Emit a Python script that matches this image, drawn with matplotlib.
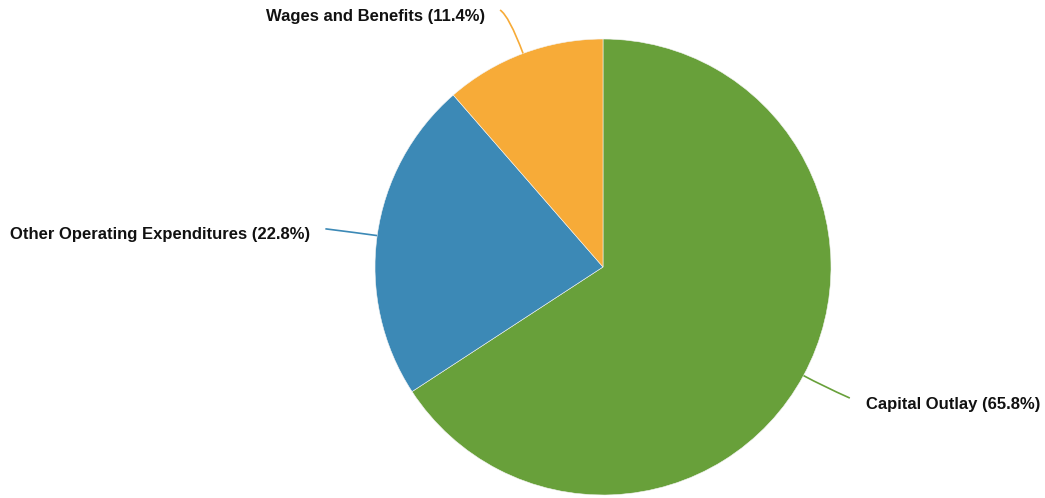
import numpy as np
import matplotlib.pyplot as plt
from matplotlib.path import Path
from matplotlib.patches import PathPatch

plt.rcParams['font.family'] = ['Liberation Sans', 'DejaVu Sans']

categories = ["Capital Outlay", "Other Operating Expenditures", "Wages and Benefits"]
shares = [65.8, 22.8, 11.4]
colors = ["#68a03a", "#3c89b6", "#f7ab38"]

# leader layout per slice: radial extension, tail dx, tail dy (pixels, y down)
leaders = [(22, 27, 12), (20, -32, -4), (40, -9, -6)]

W, H = 1045, 498
cx, cy, r = 603, 267, 228

fig = plt.figure(figsize=(W / 100, H / 100), dpi=100)
ax = fig.add_axes([0, 0, 1, 1])
ax.set_xlim(0, W)
ax.set_ylim(0, H)
ax.set_aspect('equal')
ax.axis('off')

wedges, _ = ax.pie(shares, colors=colors, startangle=90, counterclock=False,
                   center=(cx, H - cy), radius=r,
                   wedgeprops=dict(edgecolor='#f4f4f4', linewidth=0.4))
ax.set_xlim(0, W)
ax.set_ylim(0, H)

for w, name, val, col, (ext, tdx, tdy) in zip(wedges, categories, shares, colors, leaders):
    mid = np.deg2rad((w.theta1 + w.theta2) / 2)
    d = np.array([np.cos(mid), np.sin(mid)])
    c = np.array([cx, H - cy])
    p0 = c + r * d
    p1 = c + (r + ext) * d
    p2 = p1 + np.array([tdx, -tdy])
    path = Path([p0, p1, p2], [Path.MOVETO, Path.CURVE3, Path.CURVE3])
    ax.add_patch(PathPatch(path, fill=False, edgecolor=col, linewidth=1.2))
    right = tdx > 0
    tx = p2[0] + (16 if right else -15)
    ax.text(tx, p2[1] - 6, f"{name} ({val}%)", ha='left' if right else 'right',
            va='center', fontsize=12, fontweight='bold', color='#111111')

fig.savefig("out.png", dpi=100)
